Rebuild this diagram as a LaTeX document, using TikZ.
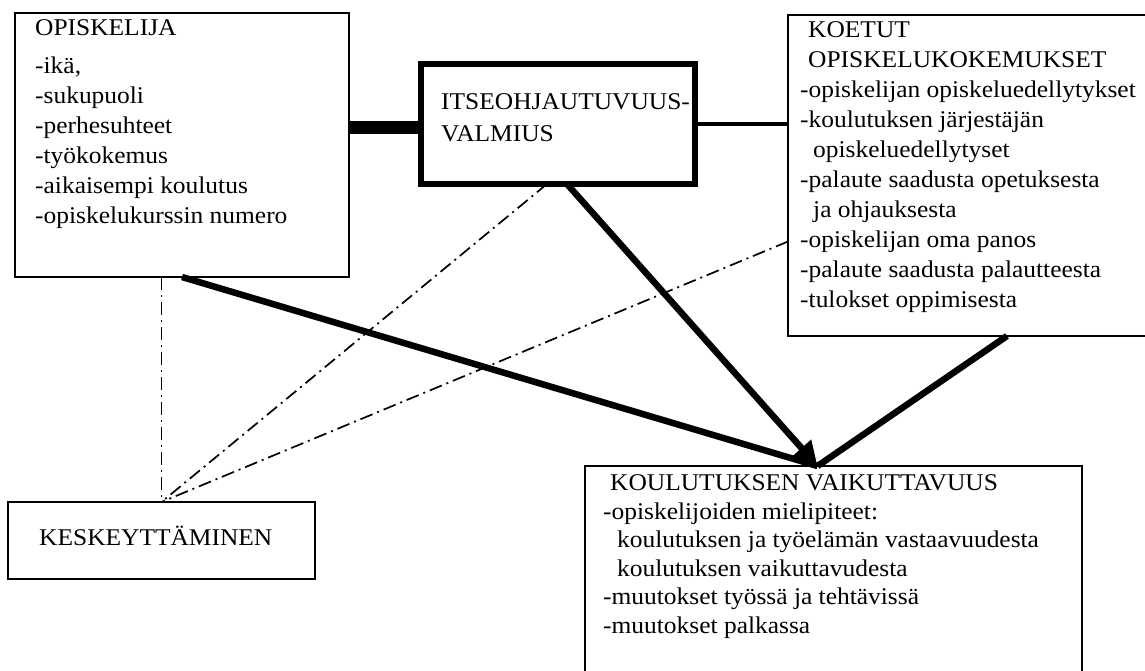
\documentclass[tikz,border=0pt]{standalone}
\usepackage{fontspec}
\setmainfont{Liberation Serif}[FakeStretch=1.06]
\usetikzlibrary{arrows.meta,calc,positioning}

\newcommand{\ind}[1]{\hspace*{#1pt}}

\begin{document}
\begin{tikzpicture}[x=1pt,y=1pt,
    box/.style={draw=black,line width=2.6pt,anchor=north west,outer sep=0pt},
    boxtext/.style={anchor=north west,align=left,font=\fontsize{24}{30}\selectfont},
    heavy/.style={line width=6.5pt},
    dashdot/.style={line width=1.7pt,dash pattern=on 13pt off 5pt on 2pt off 5pt}]
    \tikzstyle{every node}+=[inner sep=0pt]
    \useasboundingbox (0,0) rectangle (1145,-670);
    \clip (0,0) rectangle (1145,-670);
    \node [box,minimum width=334pt,minimum height=264pt] (opisk) at (15,-13) {};
    \node [box,line width=6pt,minimum width=274pt,minimum height=120pt] (itse) at (421,-64) {};
    \node [box,minimum width=364pt,minimum height=321pt] (koetut) at (788,-15) {};
    \node [box,minimum width=307pt,minimum height=77pt] (kesk) at (8,-502) {};
    \node [box,minimum width=497pt,minimum height=212pt] (koul) at (585,-466) {};
    \node [boxtext,below right=6.5pt and 20pt of opisk.north west] (opisktext)
        {OPISKELIJA\\[8pt]-ikä,\\-sukupuoli\\-perhesuhteet\\-työkokemus\\-aikaisempi koulutus\\-opiskelukurssin numero};
    \node [boxtext,font=\fontsize{24}{32}\selectfont,below right=29.5pt and 20pt of itse.north west] (itsetext)
        {ITSEOHJAUTUVUUS-\\VALMIUS};
    \node [boxtext,below right=6.5pt and 12pt of koetut.north west] (koetuttext)
        {\ind{8}KOETUT\\\ind{8}OPISKELUKOKEMUKSET\\-opiskelijan opiskeluedellytykset\\-koulutuksen järjestäjän\\\ind{13}opiskeluedellytyset\\-palaute saadusta opetuksesta\\\ind{13}ja ohjauksesta\\-opiskelijan oma panos\\-palaute saadusta palautteesta\\-tulokset oppimisesta};
    \node [boxtext,anchor=base west] (kesktext) at ($(kesk.north west)+(31,-43)$) {KESKEYTTÄMINEN};
    \node [boxtext,font=\fontsize{24}{28.5}\selectfont,below right=8.5pt and 18pt of koul.north west] (koultext)
        {\ind{7}KOULUTUKSEN VAIKUTTAVUUS\\-opiskelijoiden mielipiteet:\\\ind{14}koulutuksen ja työelämän vastaavuudesta\\\ind{14}koulutuksen vaikuttavudesta\\-muutokset työssä ja tehtävissä\\-muutokset palkassa};
    \draw [black,line width=13pt] ([yshift=-3pt]itse.west) -- ([yshift=-3pt]itse.west -| opisk.east);
    \draw [black,line width=4pt] (itse.east) -- (itse.east -| koetut.west);
    \coordinate (tip) at ([xshift=-16pt]koul.north);
    \draw [black,heavy] (opisk.south) -- (tip);
    \draw [black,heavy,-{Triangle[length=24pt,width=24pt]}] ([xshift=9pt]itse.south) -- (tip);
    \draw [black,heavy] ([xshift=219pt]koetut.south west) -- (tip);
    \draw [black,dashdot] (kesk.north |- opisk.south) -- (kesk.north);
    \draw [black,dashdot] ([xshift=-11pt]itse.south) -- (kesk.north);
    \draw [black,dashdot] ([yshift=-66pt]koetut.west) -- (kesk.north);
\end{tikzpicture}
\end{document}
